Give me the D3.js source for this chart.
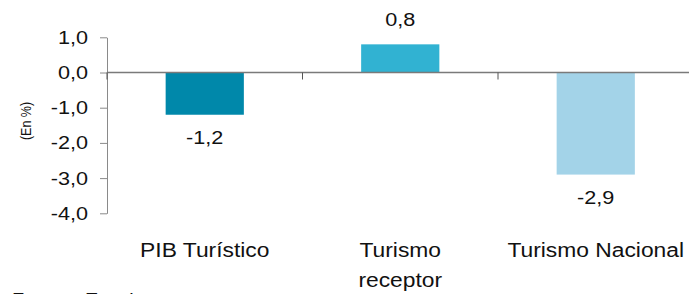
<!DOCTYPE html>
<html>
<head>
<meta charset="utf-8">
<script src="https://cdn.jsdelivr.net/npm/d3@7"></script>
<style>
  body { margin: 0; background: #fff; }
  svg { display: block; font-family: "Liberation Sans", Arial, sans-serif; }
</style>
</head>
<body>
<div class="Chart"></div>
<script>
const categories = ['PIB Turístico', 'Turismo receptor', 'Turismo Nacional'];
const categoryLines = [['PIB Turístico'], ['Turismo', 'receptor'], ['Turismo Nacional']];
const values = [-1.2, 0.8, -2.9];
const barColors = ['#0088AA', '#31B2D2', '#A3D3E8'];
const yTicks = [1, 0, -1, -2, -3, -4];
const yTitle = '(En %)';
const source = 'Fuente: Exceltur';

const width = 689, height = 294;
const stretch = 1.17; // text in the source looks horizontally widened
const fmt = v => v.toFixed(1).replace('.', ',');

const svg = d3.select('.Chart').append('svg')
  .attr('width', width)
  .attr('height', height);

const yScale = d3.scaleLinear().domain([-4, 1]).range([213.3, 37.3]);
const xScale = d3.scaleBand().domain(categories)
  .range([107, 693.5]).paddingInner(0.6).paddingOuter(0.3);

// bars
svg.selectAll('.Col')
  .data(values)
  .enter().append('rect')
  .attr('class', 'Col')
  .attr('fill', (d, i) => barColors[i])
  .attr('x', (d, i) => xScale(categories[i]))
  .attr('width', xScale.bandwidth())
  .attr('y', d => yScale(Math.max(0, d)))
  .attr('height', d => Math.abs(yScale(d) - yScale(0)));

// y axis
const yAxis = svg.append('g').attr('transform', 'translate(107,0)')
  .call(d3.axisLeft(yScale).tickValues(yTicks).tickFormat(fmt).tickSize(7).tickPadding(12).tickSizeOuter(0));
yAxis.select('.domain').attr('stroke', '#8a8a8a');
yAxis.selectAll('line').attr('stroke', '#8a8a8a');
yAxis.selectAll('text')
  .attr('fill', '#111')
  .style('font-size', '18.5px')
  .attr('x', -19 / stretch)
  .attr('transform', `scale(${stretch},1)`);

// zero line + category separators
svg.append('line')
  .attr('x1', 107).attr('x2', width)
  .attr('y1', yScale(0)).attr('y2', yScale(0))
  .attr('stroke', '#7a7a7a').attr('stroke-width', 1.3);
const step = xScale.step();
const bounds = categories.map((c, i) => xScale(c) - xScale.paddingInner() * step / 2);
svg.selectAll('.sep')
  .data(bounds)
  .enter().append('line')
  .attr('class', 'sep')
  .attr('x1', d => d).attr('x2', d => d)
  .attr('y1', yScale(0)).attr('y2', yScale(0) + 7)
  .attr('stroke', '#555');

// value labels
svg.selectAll('.val')
  .data(values)
  .enter().append('text')
  .attr('class', 'val')
  .attr('text-anchor', 'middle')
  .style('font-size', '18.5px')
  .attr('fill', '#111')
  .attr('transform', (d, i) => {
    const x = xScale(categories[i]) + xScale.bandwidth() / 2;
    const y = d >= 0 ? yScale(d) - 18 : yScale(d) + 29;
    return `translate(${x},${y}) scale(${stretch},1)`;
  })
  .text(fmt);

// category labels
categoryLines.forEach((lines, i) => {
  const cx = xScale(categories[i]) + xScale.bandwidth() / 2;
  lines.forEach((t, j) => {
    svg.append('text')
      .attr('text-anchor', 'middle')
      .style('font-size', '19.5px')
      .attr('fill', '#111')
      .attr('transform', `translate(${cx},${257 + j * 30}) scale(${stretch},1)`)
      .text(t);
  });
});

// y title
svg.append('text')
  .attr('text-anchor', 'middle')
  .style('font-size', '12.5px')
  .attr('fill', '#111')
  .attr('transform', 'translate(31,121) rotate(-90) scale(1,1.2)')
  .text(yTitle);

// source (cut off at bottom in original)
svg.append('text')
  .attr('transform', `translate(12,304.5) scale(${stretch},1)`)
  .style('font-size', '17px')
  .attr('fill', '#111')
  .text(source);
</script>
</body>
</html>
